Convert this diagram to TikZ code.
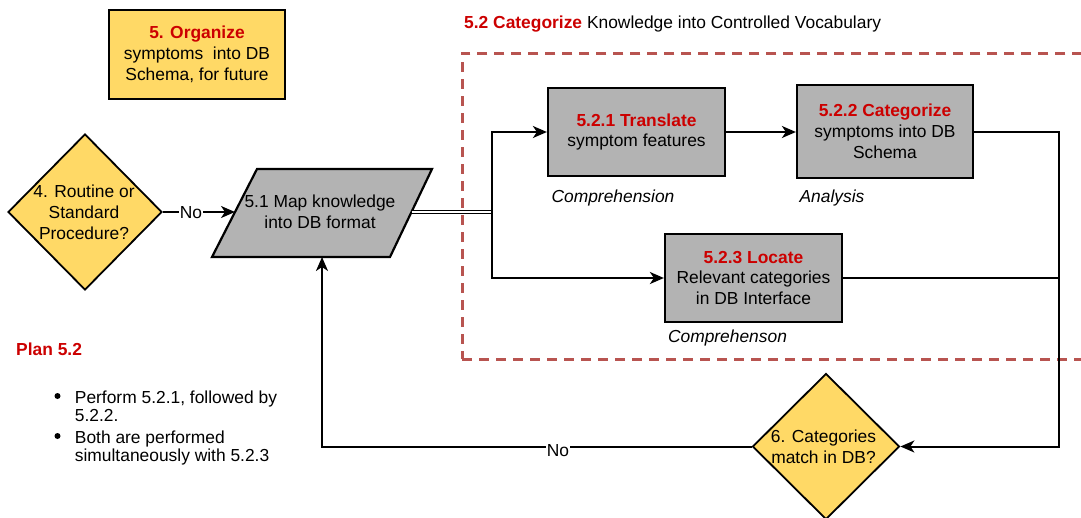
\documentclass[tikz,border=0pt]{standalone}
\usepackage{fontspec}
\setmainfont{Liberation Sans}
\usetikzlibrary{shapes.geometric,arrows.meta}
\definecolor{dyellow}{HTML}{FFD966}
\definecolor{dgrey}{HTML}{B3B3B3}
\definecolor{dred}{HTML}{CC0000}
\definecolor{dashred}{HTML}{B85450}
\newcommand{\hlred}[1]{\textcolor{dred}{\textbf{#1}}}
\begin{document}
\begin{tikzpicture}[x=1pt,y=-1pt,
  every node/.style={font=\fontsize{17.4}{20.9}\selectfont},
  greybox/.style={draw=black, line width=2.2pt, fill=dgrey, align=center, inner sep=0pt},
  yellowbox/.style={draw=black, line width=2.2pt, fill=dyellow, align=center, inner sep=0pt},
  decision/.style={diamond, draw=black, line width=1.8pt, fill=dyellow, inner sep=0pt},
  conn/.style={line width=2pt, -{Stealth[length=14pt,width=12pt,inset=4pt]}},
  plainline/.style={line width=2pt},
  dblline/.style={line width=1.5pt, double, double distance=1.8pt},
  edgelabel/.style={fill=white, inner sep=1pt},
  cognote/.style={font=\fontsize{17.4}{20.9}\selectfont\itshape},
  bulletdot/.style={circle, fill=black, inner sep=0pt, minimum size=6pt},
  plantext/.style={align=left, inner sep=0pt, anchor=base west, font=\fontsize{17.4}{18}\selectfont}]

\useasboundingbox (0,0) rectangle (1081,517);
\fill[white] (0,0) rectangle (1081,517);

% container
\node[draw=dashred, line width=2.5pt, dash pattern=on 10pt off 7pt, minimum width=650, minimum height=306, anchor=north west, inner sep=0pt] (frame) at (461,52) {};
\node[anchor=west, inner sep=0pt] (title) at (464,24) {\hlred{5.2 Categorize} Knowledge into Controlled Vocabulary};

% organize
\node[yellowbox, minimum width=176, minimum height=89] (org) at (197,54.5) {\hlred{5. Organize}\\symptoms\ \ into DB\\Schema, for future};

% decision 4
\node[decision, minimum width=154, minimum height=156] (d4) at (85,212) {};
\node[align=center, inner sep=0pt] (d4t) at (84,212.5) {4. Routine or\\Standard\\Procedure?};

% parallelogram 5.1
\coordinate (pTL) at (257,169);
\coordinate (pTR) at (432,169);
\coordinate (pBR) at (390,257);
\coordinate (pBL) at (212,257);
\draw[line width=2.2pt, fill=dgrey] (pTL) -- (pTR) -- (pBR) -- (pBL) -- cycle;
\node[align=center, inner sep=0pt] (map) at (320,212) {5.1 Map knowledge\\ into DB format};
\coordinate (mapL) at (235,212);
\coordinate (mapR) at (411.5,212);
\coordinate (mapB) at (322,257);

% task boxes
\node[greybox, minimum width=177, minimum height=88] (t521) at (636.5,132) {\hlred{5.2.1 Translate}\\symptom features};
\node[greybox, minimum width=176, minimum height=93] (c522) at (885,131.5) {\hlred{5.2.2 Categorize}\\symptoms into DB\\Schema};
\node[greybox, minimum width=177, minimum height=88] (l523) at (753.5,278) {\hlred{5.2.3 Locate}\\Relevant categories\\in DB Interface};

\node[cognote, inner sep=0pt] (n1) at (613,198) {Comprehension};
\node[cognote, inner sep=0pt] (n2) at (832,198) {Analysis};
\node[cognote, inner sep=0pt] (n3) at (727.5,338) {Comprehenson};

% decision 6
\node[decision, minimum width=147, minimum height=146] (d6) at (826,446.5) {};
\node[align=center, inner sep=0pt] (d6t) at (823.5,447) {6. Categories\\match in DB?};

% plan
\node[anchor=base west, inner sep=0pt] (plan) at (16,355) {\hlred{Plan 5.2}};
\node[bulletdot] (b1) at (57.5,396) {};
\node[plantext] (p1) at (74.7,421) {Perform 5.2.1, followed by\\5.2.2.};
\node[bulletdot] (b2) at (57.5,436) {};
\node[plantext] (p2) at (74.7,461) {Both are performed\\simultaneously with 5.2.3};

% connectors
\coordinate (split) at (492,212);
\coordinate (rtop) at (1059,131.5);
\draw[conn] (d4.east) -- (mapL);
\node[edgelabel] (no1) at (191,213) {No};
\draw[dblline] (mapR) -- (split);
\draw[conn] (split) |- (t521.west);
\draw[conn] (split) |- (l523.west);
\draw[conn] (t521.east) -- (c522.west |- t521.east);
\draw[conn] (c522.east) -- (rtop) |- (d6.east);
\draw[plainline] (l523.east) -- (l523.east -| rtop);
\draw[conn] (d6.west) -| (mapB);
\node[edgelabel] (no2) at (558,451) {No};
\end{tikzpicture}
\end{document}
